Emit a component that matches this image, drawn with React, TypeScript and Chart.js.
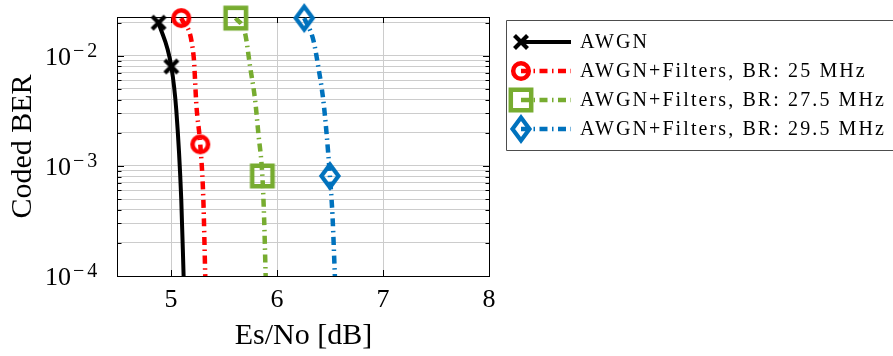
import React, { useEffect, useRef } from "react";
import { Chart, registerables } from "chart.js";

Chart.register(...registerables);

// ---------- data ----------
const SERIES_LABELS = [
  "AWGN",
  "AWGN+Filters, BR: 25 MHz",
  "AWGN+Filters, BR: 27.5 MHz",
  "AWGN+Filters, BR: 29.5 MHz",
];

// Es/No [dB] and coded BER (1 = point carries a marker)
const AWGN_X = [4.883, 5.003, 5.05, 5.097, 5.119];
const AWGN_Y = [2.0e-2, 8.0e-3, 3.2e-3, 4.9e-4, 1.0e-4];
const AWGN_MARK = [1, 1, 0, 0, 0];

const BR25_X = [5.097, 5.213, 5.24, 5.276, 5.305, 5.323];
const BR25_Y = [2.2e-2, 1.0e-2, 3.5e-3, 1.57e-3, 5.0e-4, 1.0e-4];
const BR25_MARK = [1, 0, 0, 1, 0, 0];

const BR275_X = [5.611, 5.699, 5.746, 5.793, 5.824, 5.862, 5.878, 5.893];
const BR275_Y = [2.2e-2, 1.6e-2, 8.0e-3, 4.0e-3, 1.98e-3, 8.1e-4, 3.46e-4, 1.0e-4];
const BR275_MARK = [1, 0, 0, 0, 0, 1, 0, 0];

const BR295_X = [6.257, 6.342, 6.389, 6.436, 6.467, 6.499, 6.524, 6.546];
const BR295_Y = [2.2e-2, 1.4e-2, 8.0e-3, 4.0e-3, 2.0e-3, 8.1e-4, 3.46e-4, 1.0e-4];
const BR295_MARK = [1, 0, 0, 0, 0, 1, 0, 0];

const X_MIN = 4.5;
const X_MAX = 8;
const X_TICKS = [5, 6, 7, 8];
const Y_MIN = 1e-4;
const Y_MAX = 2.25e-2;
const Y_TICKS = [
  1e-4, 2e-4, 3e-4, 4e-4, 5e-4, 6e-4, 7e-4, 8e-4, 9e-4,
  1e-3, 2e-3, 3e-3, 4e-3, 5e-3, 6e-3, 7e-3, 8e-3, 9e-3,
  1e-2, 2e-2,
];
const Y_LABEL_EXPONENTS = [-4, -3, -2];

// ---------- styles ----------
const SERIF = '"Liberation Serif", "Times New Roman", serif';
const COLORS = ["#000000", "#ff0000", "#77ac30", "#0072bd"];
const DASHDOT = [8, 4.5, 1.5, 4.5];

function makeMarker(kind: string, color: string): HTMLCanvasElement {
  const c = document.createElement("canvas");
  const S = 34;
  c.width = S;
  c.height = S;
  const g = c.getContext("2d")!;
  g.translate(S / 2, S / 2);
  g.strokeStyle = color;
  g.lineWidth = 4.5;
  g.beginPath();
  if (kind === "x") {
    g.lineWidth = 4.2;
    g.moveTo(-6.5, -6.5);
    g.lineTo(6.5, 6.5);
    g.moveTo(-6.5, 6.5);
    g.lineTo(6.5, -6.5);
  } else if (kind === "o") {
    g.arc(0, 0, 7.8, 0, Math.PI * 2);
  } else if (kind === "s") {
    g.rect(-10.2, -10.2, 20.4, 20.4);
  } else {
    g.lineWidth = 4.2;
    g.moveTo(0, -11.5);
    g.lineTo(8.5, 0);
    g.lineTo(0, 11.5);
    g.lineTo(-8.5, 0);
    g.closePath();
  }
  g.stroke();
  return c;
}

const framePlugin = {
  id: "frameTicks",
  beforeDatasetsDraw(chart: any) {
    const { ctx, chartArea } = chart;
    const { left, right, top, bottom } = chartArea;
    const ys = chart.scales.y;
    const xs = chart.scales.x;
    ctx.save();
    ctx.strokeStyle = "#000";
    ctx.lineWidth = 1;
    ctx.beginPath();
    Y_TICKS.forEach((v) => {
      const py = Math.round(ys.getPixelForValue(v)) + 0.5;
      const major = Math.abs(Math.log10(v) - Math.round(Math.log10(v))) < 1e-9;
      const len = major ? 6 : 3.5;
      ctx.moveTo(left, py);
      ctx.lineTo(left + len, py);
      ctx.moveTo(right, py);
      ctx.lineTo(right - len, py);
    });
    X_TICKS.forEach((v) => {
      const px = Math.round(xs.getPixelForValue(v)) + 0.5;
      ctx.moveTo(px, bottom);
      ctx.lineTo(px, bottom - 6);
      ctx.moveTo(px, top);
      ctx.lineTo(px, top + 6);
    });
    ctx.stroke();
    ctx.strokeRect(left - 0.5, top + 0.5, right - left + 1, bottom - top);
    ctx.restore();
  },
};

const yLabelPlugin = {
  id: "yPowLabels",
  afterDraw(chart: any) {
    const { ctx } = chart;
    const ys = chart.scales.y;
    ctx.save();
    ctx.fillStyle = "#000";
    ctx.textBaseline = "middle";
    Y_LABEL_EXPONENTS.forEach((e) => {
      const py = ys.getPixelForValue(Math.pow(10, e));
      ctx.font = `26px ${SERIF}`;
      ctx.textAlign = "right";
      ctx.fillText("10", 71, py + 2);
      ctx.font = `20px ${SERIF}`;
      ctx.textAlign = "left";
      (ctx as any).letterSpacing = "3px";
      ctx.fillText("\u2212" + Math.abs(e), 73, py - 4);
      (ctx as any).letterSpacing = "0px";
    });
    ctx.restore();
  },
};

const legendPlugin = {
  id: "boxLegend",
  afterDraw(chart: any) {
    const { ctx } = chart;
    ctx.save();
    ctx.strokeStyle = "#4d4d4d";
    ctx.lineWidth = 1;
    ctx.beginPath();
    ctx.moveTo(1000, 20.5);
    ctx.lineTo(506.5, 20.5);
    ctx.lineTo(506.5, 150.5);
    ctx.lineTo(1000, 150.5);
    ctx.stroke();
    ctx.font = `20px ${SERIF}`;
    const longest = SERIES_LABELS[2];
    const w0 = ctx.measureText(longest).width;
    const ls = Math.max(0, (306 - w0) / longest.length);
    chart.data.datasets.forEach((ds: any, i: number) => {
      const y = 42 + i * 29;
      ctx.save();
      ctx.strokeStyle = ds.borderColor;
      ctx.lineWidth = ds.borderWidth;
      ctx.setLineDash(ds.borderDash || []);
      ctx.beginPath();
      ctx.moveTo(521, y);
      ctx.lineTo(571, y);
      ctx.stroke();
      ctx.restore();
      const m = ds.pointStyle as HTMLCanvasElement;
      ctx.drawImage(m, 521 - m.width / 2, y - m.height / 2);
      ctx.fillStyle = "#000";
      ctx.textBaseline = "middle";
      ctx.textAlign = "left";
      (ctx as any).letterSpacing = ls + "px";
      ctx.fillText(SERIES_LABELS[i], 580, y + 1);
      (ctx as any).letterSpacing = "0px";
    });
    ctx.restore();
  },
};

function pts(xs: number[], ys: number[]) {
  return xs.map((x, i) => ({ x, y: ys[i] }));
}

export default function App() {
  const ref = useRef<HTMLCanvasElement | null>(null);

  useEffect(() => {
    const canvas = ref.current;
    if (!canvas) return;
    const marks = [AWGN_MARK, BR25_MARK, BR275_MARK, BR295_MARK];
    const markers = [
      makeMarker("x", COLORS[0]),
      makeMarker("o", COLORS[1]),
      makeMarker("s", COLORS[2]),
      makeMarker("d", COLORS[3]),
    ];
    const series = [
      pts(AWGN_X, AWGN_Y),
      pts(BR25_X, BR25_Y),
      pts(BR275_X, BR275_Y),
      pts(BR295_X, BR295_Y),
    ];
    const datasets = series.map((data, i) => ({
      label: SERIES_LABELS[i],
      data,
      borderColor: COLORS[i],
      backgroundColor: COLORS[i],
      borderWidth: i === 0 ? 4 : 4.5,
      borderDash: i === 0 ? [] : DASHDOT,
      borderCapStyle: "butt",
      cubicInterpolationMode: "monotone",
      pointStyle: markers[i],
      pointRadius: marks[i].map((m) => (m ? 8 : 0)),
      pointHoverRadius: marks[i].map((m) => (m ? 8 : 0)),
      clip: false,
      fill: false,
    }));

    const chart = new Chart(canvas, {
      type: "line",
      data: { datasets } as any,
      options: {
        animation: false,
        responsive: false,
        devicePixelRatio: 1,
        events: [],
        layout: { padding: { left: 0, top: 17, right: 404, bottom: 0 } },
        plugins: { legend: { display: false }, tooltip: { enabled: false } },
        scales: {
          x: {
            type: "linear",
            min: X_MIN,
            max: X_MAX,
            afterBuildTicks: (s: any) => {
              s.ticks = X_TICKS.map((v) => ({ value: v }));
            },
            afterFit: (s: any) => {
              s.height = 80;
            },
            grid: { color: "#cccccc", lineWidth: 1, drawTicks: false },
            border: { display: false },
            ticks: {
              color: "#000",
              font: { family: SERIF, size: 26 },
              padding: 9,
              maxRotation: 0,
            },
            title: {
              display: true,
              text: "Es/No [dB]",
              color: "#000",
              font: { family: SERIF, size: 30 },
              padding: { top: 0, bottom: 2 },
            },
          },
          y: {
            type: "logarithmic",
            min: Y_MIN,
            max: Y_MAX,
            afterBuildTicks: (s: any) => {
              s.ticks = Y_TICKS.map((v) => ({ value: v }));
            },
            afterFit: (s: any) => {
              s.width = 118;
            },
            grid: { color: "#cccccc", lineWidth: 1, drawTicks: false },
            border: { display: false },
            ticks: { display: false },
            title: {
              display: true,
              text: "Coded BER",
              color: "#000",
              font: { family: SERIF, size: 30 },
              padding: { top: 5, bottom: 0 },
            },
          },
        },
      } as any,
      plugins: [framePlugin, yLabelPlugin, legendPlugin],
    });
    return () => chart.destroy();
  }, []);

  return (
    <div
      style={{
        position: "absolute",
        left: 0,
        top: 0,
        width: 893,
        height: 356,
        background: "#fff",
      }}
    >
      <canvas
        ref={ref}
        width={893}
        height={356}
        style={{ display: "block", width: 893, height: 356 }}
      />
    </div>
  );
}
